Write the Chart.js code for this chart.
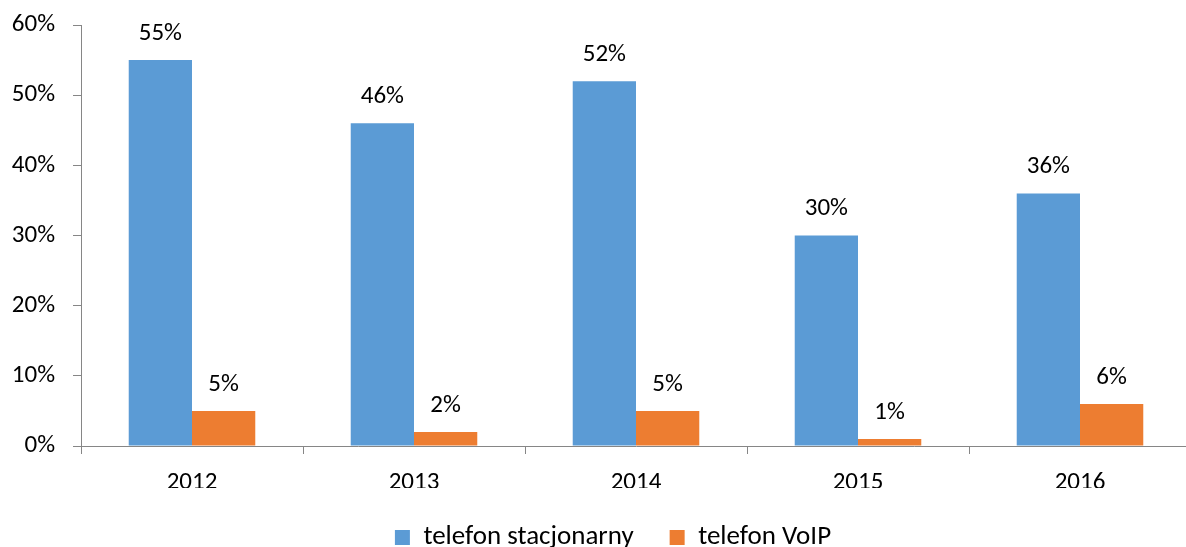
<!DOCTYPE html>
<html>
<head>
<meta charset="utf-8">
<script src="https://cdn.jsdelivr.net/npm/chart.js@4/dist/chart.umd.min.js"></script>
<style>
  html, body { margin: 0; padding: 0; overflow: hidden; background: #fff; }
  #wrap { width: 1226px; height: 561px; }
</style>
</head>
<body>
<div id="wrap"><canvas id="c" width="1226" height="561"></canvas></div>
<script>
const categories = ['2012', '2013', '2014', '2015', '2016'];
const stacjonarny = [55, 46, 52, 30, 36];
const voip = [5, 2, 5, 1, 6];
const seriesNames = ['telefon stacjonarny', 'telefon VoIP'];
const yTicks = [0, 10, 20, 30, 40, 50, 60];

const FONT = 'Carlito, Calibri, Lato, sans-serif';
const FSIZE = 25;
const AXIS = '#868686';

const valueLabels = {
  id: 'valueLabels',
  afterDatasetsDraw(chart) {
    const ctx = chart.ctx;
    ctx.save();
    ctx.font = FSIZE + 'px ' + FONT;
    ctx.fillStyle = '#000';
    ctx.textAlign = 'center';
    ctx.textBaseline = 'middle';
    chart.data.datasets.forEach((ds, i) => {
      const meta = chart.getDatasetMeta(i);
      meta.data.forEach((bar, j) => {
        ctx.fillText(ds.data[j] + '%', bar.x, bar.y - 26.5);
      });
    });
    ctx.restore();
  }
};

new Chart(document.getElementById('c'), {
  type: 'bar',
  data: {
    labels: categories,
    datasets: [
      { label: seriesNames[0], data: stacjonarny, backgroundColor: '#5B9BD5', categoryPercentage: 0.57, barPercentage: 1 },
      { label: seriesNames[1], data: voip, backgroundColor: '#ED7D31', categoryPercentage: 0.57, barPercentage: 1 }
    ]
  },
  options: {
    responsive: false,
    animation: false,
    devicePixelRatio: 1,
    layout: { padding: { left: 0, right: 0, top: 25, bottom: 0 } },
    plugins: {
      tooltip: { enabled: false },
      legend: {
        position: 'bottom',
        labels: {
          boxWidth: 15,
          boxHeight: 15,
          padding: 36,
          color: '#000',
          font: { family: FONT, size: 27 }
        }
      }
    },
    scales: {
      x: {
        offset: true,
        grid: { offset: true, drawOnChartArea: false, drawTicks: true, tickLength: 8, color: AXIS },
        border: { color: AXIS },
        ticks: { color: '#000', font: { family: FONT, size: FSIZE }, padding: 14 },
        afterFit(s) { s.height = 42; }
      },
      y: {
        min: 0,
        max: 60,
        afterBuildTicks(s) { s.ticks = yTicks.map(v => ({ value: v })); },
        grid: { drawOnChartArea: false, drawTicks: true, tickLength: 8, color: AXIS },
        border: { color: AXIS },
        ticks: { color: '#000', font: { family: FONT, size: FSIZE, lineHeight: 0.5 }, padding: 18, callback: v => v + '%' },
        afterFit(s) { s.width = 81; }
      },
      spacer: {
        type: 'linear',
        position: 'right',
        display: true,
        grid: { display: false, drawTicks: false },
        border: { display: false },
        ticks: { display: false },
        afterFit(s) { s.width = 35; }
      }
    }
  },
  plugins: [valueLabels]
});
</script>
</body>
</html>
